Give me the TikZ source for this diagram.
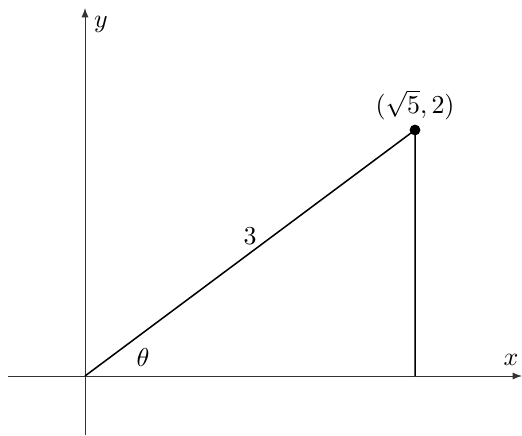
\documentclass[tikz,border=0pt]{standalone}
\usetikzlibrary{arrows.meta}
\begin{document}
\begin{tikzpicture}[x=0.4255pt,y=-0.4255pt,
  axis/.style={line width=0.4pt,draw=black!80,-{Latex[length=4pt,width=3pt]}},
  seg/.style={line width=0.65pt,black},
  lbl/.style={inner sep=0pt,scale=1.1}]
\useasboundingbox (0,0) rectangle (522,435);
\coordinate (xs) at (8,376);
\coordinate (xe) at (522,376);
\coordinate (ys) at (85,435);
\coordinate (ye) at (85,8);
\coordinate (O) at (85,376);
\coordinate (F) at (415,376);
\node[circle,fill=black,inner sep=0pt,minimum size=4.6pt] (P) at (415,130) {};
\draw[axis] (xs) -- (xe);
\draw[axis] (ys) -- (ye);
\draw[seg] (O) -- (P.center) -- (F);
\node[lbl] (ylab) at (101,24) {$y$};
\node[lbl] (xlab) at (511,360) {$x$};
\node[lbl] (th) at (143,358) {$\theta$};
\node[lbl] (three) at (250,236) {$3$};
\node[lbl] (plab) at (415,105) {$(\sqrt{5},2)$};
\end{tikzpicture}
\end{document}
